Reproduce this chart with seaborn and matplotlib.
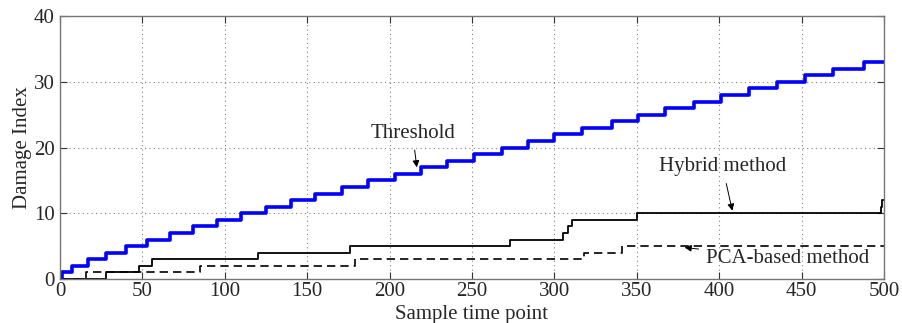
import matplotlib
matplotlib.use('Agg')
import matplotlib.pyplot as plt
import seaborn as sns
import pandas as pd

# ============================================================
# Data
# ============================================================
thr_x = [0, 1, 7, 17, 28, 40, 53, 67, 81, 95, 110, 125, 140, 155, 171, 187, 203,
         219, 235, 251, 268, 284, 300, 317, 335, 351, 367, 385, 401, 418, 435,
         452, 469, 488, 500]
thr_y = [0, 1, 2, 3, 4, 5, 6, 7, 8, 9, 10, 11, 12, 13, 14, 15, 16, 17, 18, 19,
         20, 21, 22, 23, 24, 25, 26, 27, 28, 29, 30, 31, 32, 33, 33]

hyb_x = [0, 28, 48, 56, 120, 176, 273, 305, 308, 311, 350, 498, 499, 500]
hyb_y = [0, 1, 2, 3, 4, 5, 6, 7, 8, 9, 10, 11, 12, 12]

pca_x = [0, 16, 85, 179, 318, 341, 500]
pca_y = [0, 1, 2, 3, 4, 5, 5]

x_ticks = [0, 50, 100, 150, 200, 250, 300, 350, 400, 450, 500]
y_ticks = [0, 10, 20, 30, 40]

# ============================================================
# Style
# ============================================================
sns.set_style('ticks')
plt.rcParams['font.family'] = ['Liberation Serif', 'DejaVu Serif']
FS = 15
plt.rcParams['font.size'] = FS

fig = plt.figure(figsize=(9.02, 3.23), dpi=100)
ax = fig.add_axes([0.0665, 0.136, 0.9135, 0.814])

thr_df = pd.DataFrame({'x': thr_x, 'y': thr_y})
hyb_df = pd.DataFrame({'x': hyb_x, 'y': hyb_y})
pca_df = pd.DataFrame({'x': pca_x, 'y': pca_y})

sns.lineplot(data=pca_df, x='x', y='y', ax=ax, color='black', linewidth=1.2,
             drawstyle='steps-post', estimator=None, dashes=False,
             linestyle=(0, (5, 3)))
sns.lineplot(data=hyb_df, x='x', y='y', ax=ax, color='black', linewidth=1.3,
             drawstyle='steps-post', estimator=None)
sns.lineplot(data=thr_df, x='x', y='y', ax=ax, color='#0000FF', linewidth=2.6,
             drawstyle='steps-post', estimator=None)

ax.set_xlim(0, 500)
ax.set_ylim(0, 40)
ax.set_xticks(x_ticks)
ax.set_yticks(y_ticks)
ax.grid(True, linestyle=(0, (1, 3)), color='#808080', linewidth=0.8)
ax.tick_params(direction='in', length=5, top=True, right=True, labelsize=FS,
               color='#333333')
ax.tick_params(axis='x', pad=2)
ax.tick_params(axis='y', pad=4)
for s in ax.spines.values():
    s.set_visible(True)
    s.set_color('#777777')
    s.set_linewidth(1.0)

ax.set_xlabel('Sample time point', fontsize=FS, labelpad=3)
ax.set_ylabel('Damage Index', fontsize=FS, labelpad=1)

# annotations
arrow = dict(arrowstyle='-|>', color='black', lw=0.7, mutation_scale=10,
             shrinkA=3, shrinkB=0)
ax.annotate('Threshold', xy=(216.5, 17.0), xytext=(214, 22.2), ha='center',
            va='center', fontsize=FS, arrowprops=arrow)
ax.annotate('Hybrid method', xy=(408, 10.4), xytext=(402, 17.1), ha='center',
            va='center', fontsize=FS, arrowprops=arrow)
ax.annotate('PCA-based method', xy=(379, 4.8), xytext=(392, 3.1), ha='left',
            va='center', fontsize=FS, arrowprops=arrow)

plt.savefig('out.png', dpi=100)
plt.close()
